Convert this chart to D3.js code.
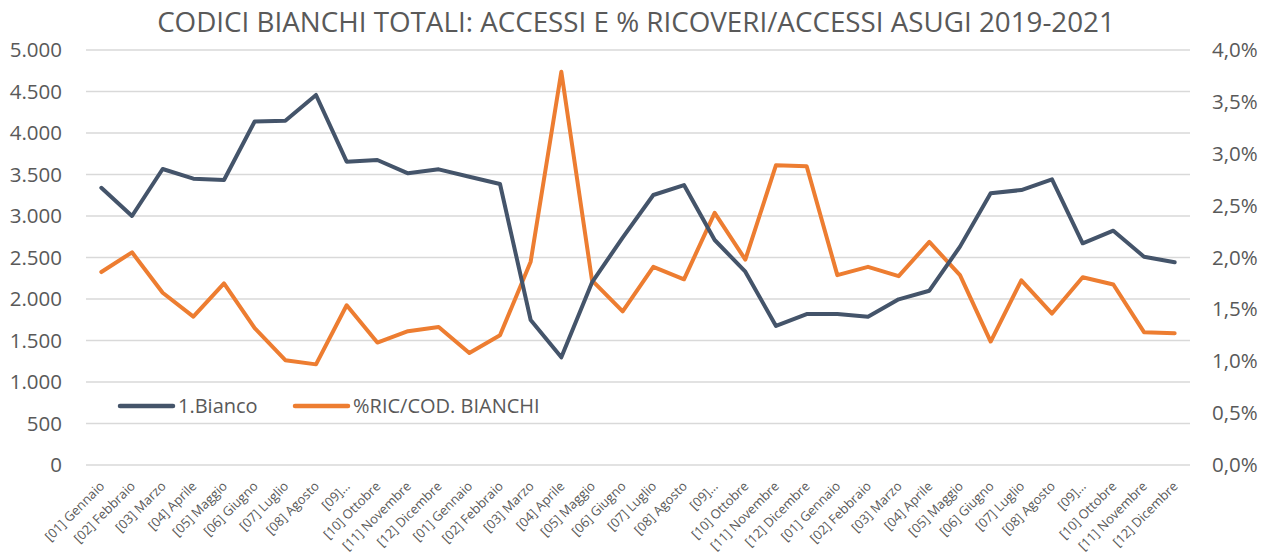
<!DOCTYPE html>
<html><head><meta charset="utf-8">
<script src="https://cdn.jsdelivr.net/npm/d3@7"></script>
<style>
html,body{margin:0;padding:0;background:#fff;}
svg{display:block;}
</style></head>
<body>
<svg id="chart" width="1272" height="557"></svg>
<script>
const months = ["[01] Gennaio","[02] Febbraio","[03] Marzo","[04] Aprile","[05] Maggio","[06] Giugno","[07] Luglio","[08] Agosto","[09]...","[10] Ottobre","[11] Novembre","[12] Dicembre"];
const categories = [].concat(months, months, months).map((m,i)=>({key:i, label:m}));
const accessi = [3340,3000,3566,3450,3434,4138,4148,4458,3655,3675,3514,3562,
                 3473,3385,1747,1297,2200,2740,3253,3373,2711,2329,1675,1819,
                 1819,1787,1996,2100,2631,3273,3313,3442,2671,2823,2510,2442];
const pctRic = [1.86,2.05,1.66,1.43,1.75,1.32,1.01,0.97,1.54,1.18,1.29,1.33,
                1.08,1.25,1.96,3.79,1.78,1.48,1.91,1.79,2.43,1.98,2.89,2.88,
                1.83,1.91,1.82,2.15,1.83,1.19,1.78,1.46,1.81,1.74,1.28,1.27];
const leftTicks = [0,500,1000,1500,2000,2500,3000,3500,4000,4500,5000];
const rightTicks = [0,0.5,1,1.5,2,2.5,3,3.5,4];
const title = "CODICI BIANCHI TOTALI: ACCESSI E % RICOVERI/ACCESSI ASUGI 2019-2021";
const seriesNames = ["1.Bianco","%RIC/COD. BIANCHI"];
const colors = ["#44546A","#ED7D31"];

const svg = d3.select("#chart");
const font = "'Open Sans', 'Liberation Sans', sans-serif";
const textColor = "#595959";
const m = {left:86, right:1190, top:50, bottom:465};

const x = d3.scaleBand().domain(categories.map(d=>d.key)).range([m.left, m.right]);
const yL = d3.scaleLinear().domain([0,5000]).range([m.bottom, m.top]);
const yR = d3.scaleLinear().domain([0,4]).range([m.bottom, m.top]);
const cx = i => x(i) + x.bandwidth()/2;

// gridlines
svg.append("g").selectAll("line").data(leftTicks).join("line")
  .attr("x1", m.left).attr("x2", m.right)
  .attr("y1", d=>yL(d)).attr("y2", d=>yL(d))
  .attr("stroke", "#D9D9D9").attr("stroke-width", 1.5);

// left axis
const fmtL = v => d3.format(",")(v).replace(/,/g, ".");
const axL = svg.append("g").attr("transform", `translate(${m.left},0)`)
  .call(d3.axisLeft(yL).tickValues(leftTicks).tickFormat(fmtL).tickSize(0).tickPadding(24));
axL.select(".domain").remove();
axL.selectAll("text").attr("font-family", font).attr("font-size", 20.5).attr("fill", textColor);

// right axis
const fmtR = v => d3.format(".1f")(v).replace(".", ",") + "%";
const axR = svg.append("g").attr("transform", `translate(${m.right},0)`)
  .call(d3.axisRight(yR).tickValues(rightTicks).tickFormat(fmtR).tickSize(0).tickPadding(22));
axR.select(".domain").remove();
axR.selectAll("text").attr("font-family", font).attr("font-size", 20.5).attr("fill", textColor);

// x axis labels
const axX = svg.append("g").attr("transform", `translate(0,${m.bottom})`)
  .call(d3.axisBottom(x).tickFormat(i=>categories[i].label).tickSize(0));
axX.select(".domain").remove();
axX.selectAll("text")
  .attr("font-family", font).attr("font-size", 13).attr("fill", textColor)
  .attr("text-anchor", "end").attr("dy", 0).attr("y", 0)
  .attr("transform", "translate(4,22) rotate(-45)");

// lines
const lineL = d3.line().x((d,i)=>cx(i)).y(d=>yL(d));
const lineR = d3.line().x((d,i)=>cx(i)).y(d=>yR(d));
svg.append("path").datum(pctRic).attr("d", lineR)
  .attr("fill","none").attr("stroke", colors[1]).attr("stroke-width", 4)
  .attr("stroke-linejoin","round").attr("stroke-linecap","round");
svg.append("path").datum(accessi).attr("d", lineL)
  .attr("fill","none").attr("stroke", colors[0]).attr("stroke-width", 4)
  .attr("stroke-linejoin","round").attr("stroke-linecap","round");

// legend
const legendItems = [{x:120, name:seriesNames[0], c:colors[0]},{x:295, name:seriesNames[1], c:colors[1]}];
const lg = svg.append("g");
legendItems.forEach(it=>{
  lg.append("line").attr("x1", it.x).attr("x2", it.x+53).attr("y1", 406).attr("y2", 406)
    .attr("stroke", it.c).attr("stroke-width", 4.5).attr("stroke-linecap","round");
  lg.append("text").attr("x", it.x+58).attr("y", 406).attr("dy","0.35em")
    .attr("font-family", font).attr("font-size", 20).attr("fill", textColor).text(it.name);
});

// title
const t = svg.append("text").attr("x", 636).attr("y", 22).attr("dy","0.35em")
  .attr("text-anchor","middle").attr("font-family", font).attr("font-size", 24)
  .attr("fill", textColor).text(title);
const w = t.node().getComputedTextLength();
t.attr("font-size", 24 * 958 / w);
</script>
</body></html>
